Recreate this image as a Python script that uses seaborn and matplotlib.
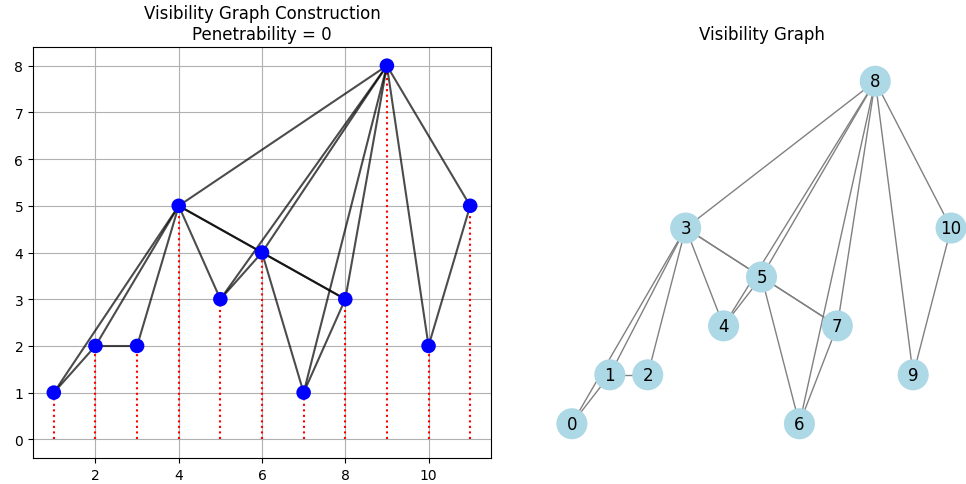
import matplotlib
matplotlib.use("Agg")
import matplotlib.pyplot as plt
import seaborn as sns
import numpy as np
import pandas as pd

# Time series and its natural visibility graph
times = [1, 2, 3, 4, 5, 6, 7, 8, 9, 10, 11]
values = [1, 2, 2, 5, 3, 4, 1, 3, 8, 2, 5]
node_ids = list(range(len(times)))
edges = [(0, 1), (0, 3), (1, 2), (1, 3), (2, 3), (3, 4), (3, 5), (3, 7),
         (3, 8), (4, 5), (4, 8), (5, 6), (5, 7), (5, 8), (6, 7), (6, 8),
         (7, 8), (8, 9), (8, 10), (9, 10)]

series = pd.DataFrame({"t": times, "y": values, "node": node_ids})
edge_rows = []
for k, (a, b) in enumerate(edges):
    edge_rows.append({"edge": k, "t": times[a], "y": values[a]})
    edge_rows.append({"edge": k, "t": times[b], "y": values[b]})
edge_df = pd.DataFrame(edge_rows)

W, H = 966, 485
fig = plt.figure(figsize=(W / 100, H / 100), dpi=100)
ax1 = fig.add_axes([33 / W, 26 / H, 458 / W, 411 / H])
ax2 = fig.add_axes([534 / W, 26 / H, 455 / W, 411 / H])

# Left panel: series bars as dotted stems, visibility lines, points
ax1.grid(True, color="#b0b0b0", linewidth=0.8, zorder=0)
ax1.set_axisbelow(True)
ax1.vlines(series["t"], 0, series["y"], colors="red", linestyles=":",
           linewidth=1.5, zorder=1)
for _, grp in edge_df.groupby("edge"):
    ax1.plot(grp["t"], grp["y"], color="black", alpha=0.7, linewidth=1.5,
             zorder=2)
sns.scatterplot(data=series, x="t", y="y", ax=ax1, color="blue", s=110,
                edgecolor="none", zorder=3, legend=False)
ax1.set_xlim(0.5, 11.5)
ax1.set_ylim(-0.4, 8.4)
ax1.set_xticks([2, 4, 6, 8, 10])
ax1.set_yticks(range(0, 9))
ax1.set_xlabel("")
ax1.set_ylabel("")
ax1.tick_params(labelsize=10)
ax1.set_title("Visibility Graph Construction\nPenetrability = 0", fontsize=12)

# Right panel: the graph laid out at (time, value)
for _, grp in edge_df.groupby("edge"):
    ax2.plot(grp["t"], grp["y"], color="gray", linewidth=1.0, zorder=1)
sns.scatterplot(data=series, x="t", y="y", ax=ax2, color="lightblue", s=500,
                edgecolor="none", zorder=2, legend=False)
for t, y, n in zip(series["t"], series["y"], series["node"]):
    ax2.text(t, y, str(n), ha="center", va="center", fontsize=12, zorder=3)
ax2.set_xlim(0, 12)
ax2.set_ylim(0.3, 8.7)
ax2.set_axis_off()
ax2.set_title("Visibility Graph", fontsize=12)

fig.savefig("out.png", dpi=100)
